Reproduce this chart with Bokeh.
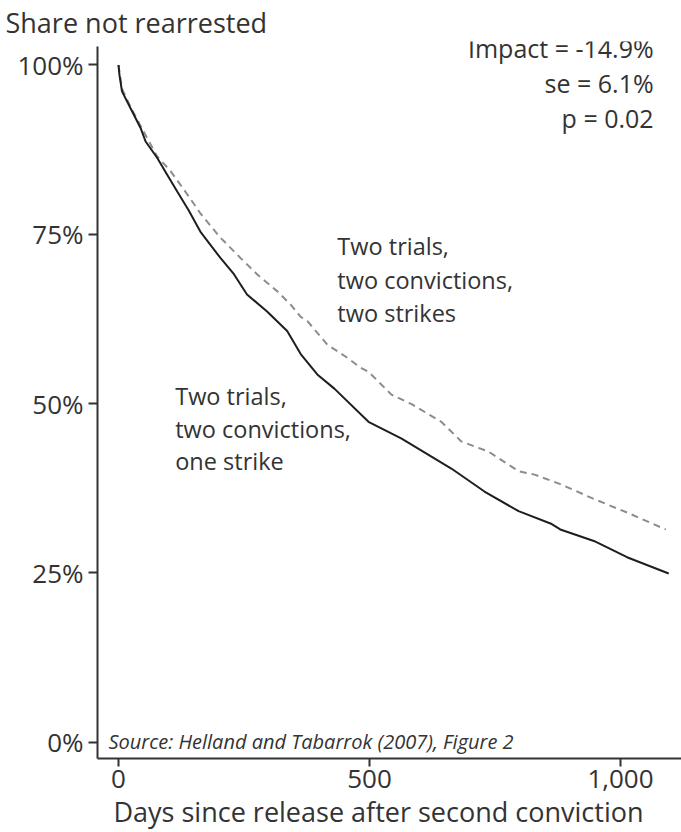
from bokeh.plotting import figure
from bokeh.models import Range1d, FixedTicker, Label, Title
from bokeh.embed import file_html
from bokeh.resources import INLINE

# ---- data ----
days_one_strike = [0, 2, 7, 24, 44, 54, 77, 97, 117, 140, 163, 203, 230, 256, 296, 336,
                   363, 396, 430, 498, 564, 663, 729, 797, 863, 880, 947, 1013, 1096]
pct_one_strike = [100, 98.5, 96.1, 93.6, 90.7, 88.7, 86.3, 83.8, 81.3, 78.5, 75.4, 71.5, 69.1,
                  66.1, 63.6, 60.7, 57.3, 54.3, 52.2, 47.3, 44.8, 40.4, 37.0, 34.1, 32.2, 31.4,
                  29.7, 27.3, 24.9]

days_two_strikes = [0, 7, 24, 44, 77, 104, 137, 163, 203, 243, 276, 316, 343, 363, 376, 416,
                    455, 482, 498, 544, 584, 643, 683, 737, 797, 829, 880, 947, 1013, 1090]
pct_two_strikes = [100, 96.5, 93.8, 91.0, 86.5, 84.3, 80.9, 78.1, 74.5, 71.5, 69.1, 66.6, 64.6,
                   62.8, 62.2, 58.7, 56.8, 55.3, 54.7, 51.3, 49.9, 47.3, 44.4, 42.9, 40.0, 39.5,
                   38.1, 35.9, 33.9, 31.4]

y_ticks = [0, 25, 50, 75, 100]
y_tick_labels = ["0%", "25%", "50%", "75%", "100%"]
x_ticks = [0, 500, 1000]
x_tick_labels = ["0", "500", "1,000"]

stats_lines = ["Impact = -14.9%", "se = 6.1%", "p = 0.02"]
two_strikes_lines = ["Two trials,", "two convictions,", "two strikes"]
one_strike_lines = ["Two trials,", "two convictions,", "one strike"]

FONT = "Open Sans"
TXT = "#333333"

p = figure(width=681, height=832, output_backend="svg", toolbar_location=None,
           x_range=Range1d(-41.8, 1121.5), y_range=Range1d(-2.43, 103.47),
           min_border_left=97, min_border_right=0, min_border_top=40, min_border_bottom=74)
p.outline_line_color = None
p.xgrid.visible = False
p.ygrid.visible = False
p.background_fill_color = "white"

for ax in (p.xaxis[0], p.yaxis[0]):
    ax.axis_line_color = "#333333"
    ax.axis_line_width = 2
    ax.major_tick_line_color = "#333333"
    ax.major_tick_line_width = 2
    ax.major_tick_in = 0
    ax.minor_tick_line_color = None
    ax.major_label_text_font = FONT
    ax.major_label_text_font_size = "26px"
    ax.major_label_text_color = TXT

p.xaxis.ticker = FixedTicker(ticks=x_ticks)
p.xaxis.major_label_overrides = {t: l for t, l in zip(x_ticks, x_tick_labels)}
p.xaxis.major_tick_out = 8
p.xaxis.major_label_standoff = 3
p.yaxis.ticker = FixedTicker(ticks=y_ticks)
p.yaxis.major_label_overrides = {t: l for t, l in zip(y_ticks, y_tick_labels)}
p.yaxis.major_tick_out = 9
p.yaxis.major_label_standoff = 5
p.yaxis.bounds = (-2.43, 102.7)

# titles outside the frame
p.title = Title(text="Share not rearrested", align="left", offset=-92,
                text_font=FONT, text_font_size="27px", text_font_style="normal",
                text_color=TXT, standoff=2)
p.add_layout(Title(text="Days since release after second conviction", align="left", offset=16,
                   text_font=FONT, text_font_size="27px", text_font_style="normal",
                   text_color=TXT, standoff=0), "below")

p.line(days_two_strikes, pct_two_strikes, line_color="#8c8c8c", line_width=2,
       line_dash="7 5")
p.line(days_one_strike, pct_one_strike, line_color="#1e1e1e", line_width=2)

def lab(x, y, text, size="24px", align="left", style="normal"):
    p.add_layout(Label(x=x, y=y, text=text, text_font=FONT, text_font_size=size,
                       text_color=TXT, text_align=align, text_baseline="middle",
                       text_font_style=style))

for i, t in enumerate(stats_lines):
    lab(1066, 102.5 - i * 5.15, t, size="25px", align="right")
for i, t in enumerate(two_strikes_lines):
    lab(436, 73.2 - i * 4.94, t, size="23.5px")
for i, t in enumerate(one_strike_lines):
    lab(113, 51.1 - i * 4.8, t, size="23.5px")
lab(-20, 0.1, "Source: Helland and Tabarrok (2007), Figure 2", size="20px", style="italic")

open("out.html", "w").write(file_html(p, INLINE))
